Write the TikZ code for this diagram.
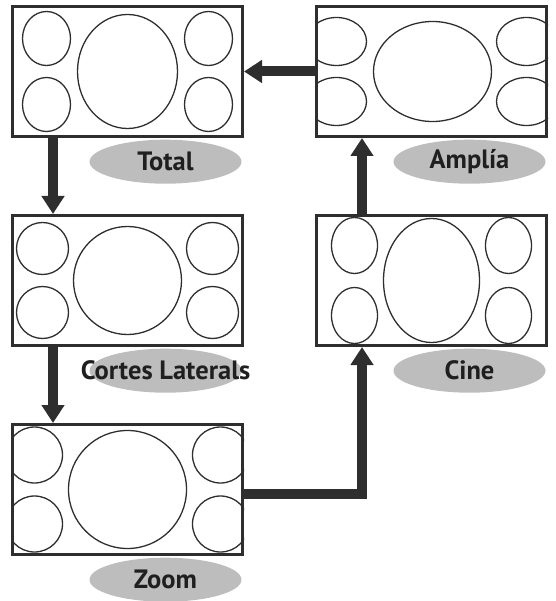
\documentclass[tikz,border=0pt]{standalone}
\usepackage{fontspec}
\setmainfont{PT Sans}
\usetikzlibrary{positioning, shapes.geometric, arrows.meta}
\definecolor{framegray}{gray}{0.18}
\definecolor{taggray}{gray}{0.74}
\definecolor{inkgray}{gray}{0.12}
\begin{document}
\begin{tikzpicture}[
        x=1pt, y=-1pt,
        screen/.style={rectangle, draw=framegray, line width=3pt,
            minimum width=230pt, minimum height=130pt, inner sep=0pt},
        lens/.style={draw=framegray, line width=1.3pt},
        tag/.style={ellipse, fill=taggray, minimum width=152pt, minimum height=44pt,
            inner sep=0pt, text=inkgray, font=\bfseries\fontsize{26.5}{30}\selectfont,
            below=1.5pt of #1.south, xshift=38pt},
        flow/.style={draw=framegray, line width=10pt, -{Triangle[length=18pt, width=22pt]}}
    ]
    \useasboundingbox (0,0) rectangle (555,601);

    % screens
    \node [screen] (total) at (127.5,71.5) {};
    \node [screen, right=71pt of total] (amplia) {};
    \node [screen, below=76pt of total] (cortes) {};
    \node [screen, below=76pt of cortes] (zoom) {};
    \node [screen, below=76pt of amplia] (cine) {};

    % picture content of each screen
    \begin{scope}[shift={(total.center)}]
        \clip (total.south west) rectangle (total.north east);
        \foreach \sx in {-1,1} \foreach \sy in {-1,1}
            \draw [lens] (\sx*81,\sy*33) ellipse [x radius=24pt, y radius=27pt];
        \draw [lens] (0,0) ellipse [x radius=50pt, y radius=57pt];
    \end{scope}
    \begin{scope}[shift={(amplia.center)}]
        \clip (amplia.south west) rectangle (amplia.north east);
        \foreach \sx in {-1,1} \foreach \sy in {-1,1}
            \draw [lens] (\sx*95,\sy*30) ellipse [x radius=30pt, y radius=24pt];
        \draw [lens] (1,0) ellipse [x radius=59pt, y radius=50pt];
    \end{scope}
    \begin{scope}[shift={(cortes.center)}]
        \clip (cortes.south west) rectangle (cortes.north east);
        \foreach \sx in {-1,1} \foreach \sy in {-1,1}
            \draw [lens] (\sx*85,\sy*32) circle [radius=26pt];
        \draw [lens] (0,0) circle [radius=54pt];
    \end{scope}
    \begin{scope}[shift={(cine.center)}]
        \clip (cine.south west) rectangle (cine.north east);
        \foreach \sx in {-1,1} \foreach \sy in {-1,1}
            \draw [lens] (\sx*77,\sy*35) ellipse [x radius=23pt, y radius=28pt];
        \draw [lens] (0,0) ellipse [x radius=48pt, y radius=62pt];
    \end{scope}
    \begin{scope}[shift={(zoom.center)}]
        \clip (zoom.south west) rectangle (zoom.north east);
        \foreach \sx in {-1,1} \foreach \sy in {-1,1}
            \draw [lens] (\sx*93,\sy*34.5) circle [radius=28pt];
        \draw [lens] (0,0) circle [radius=59pt];
    \end{scope}

    % mode names
    \node [tag=total] (totaltag) {\makebox[0pt]{Total}};
    \node [tag=amplia] (ampliatag) {\makebox[0pt]{Amplía}};
    \node [tag=cortes] (cortestag) {\makebox[0pt]{Cortes Laterals}};
    \node [tag=cine] (cinetag) {\makebox[0pt]{Cine}};
    \node [tag=zoom] (zoomtag) {\makebox[0pt]{Zoom}};

    % order of the modes
    \coordinate (leftlane) at (53,0);
    \coordinate (rightlane) at (362,0);
    \draw [flow] (total.south -| leftlane) -- (cortes.north -| leftlane);
    \draw [flow] (cortes.south -| leftlane) -- (zoom.north -| leftlane);
    \draw [flow] ([yshift=-4pt]zoom.east) -| (cine.south -| rightlane);
    \draw [flow] (cine.north -| rightlane) -- (amplia.south -| rightlane);
    \draw [flow] (amplia.west) -- (total.east);
\end{tikzpicture}
\end{document}
